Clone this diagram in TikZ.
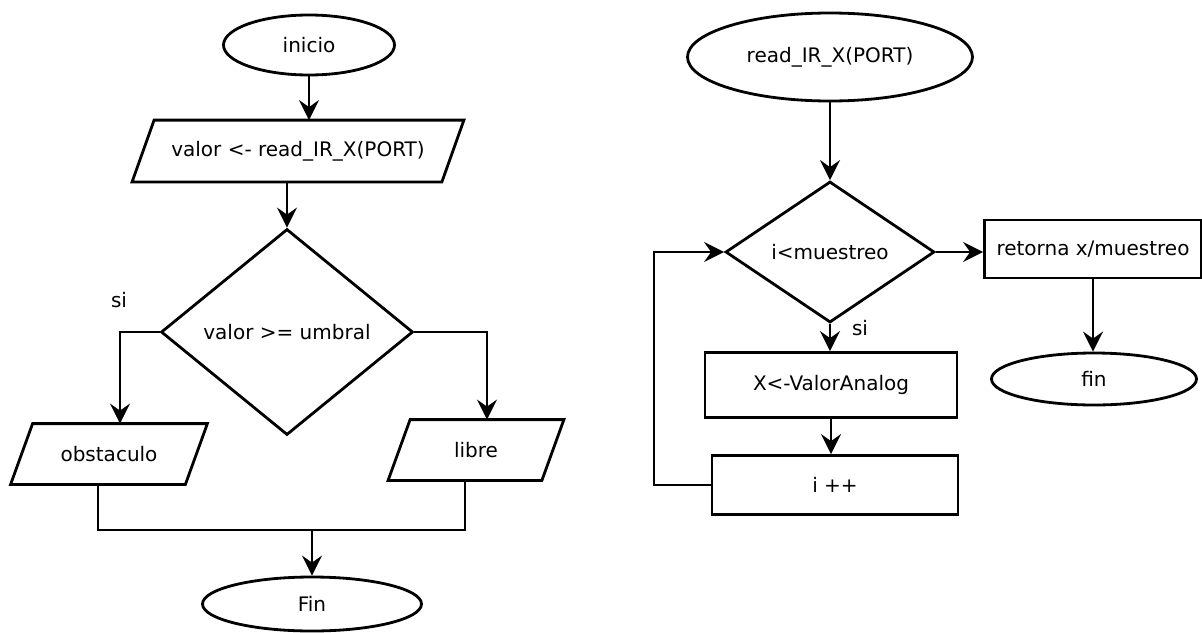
\documentclass[tikz,border=0pt]{standalone}
\usepackage{fontspec}
\setmainfont{DejaVu Sans}
\usepackage{tikz}
\usetikzlibrary{calc, shapes.geometric, arrows.meta}

\begin{document}
\begin{tikzpicture}[x=1pt, y=-1pt, >={Stealth[length=20pt, width=20pt, inset=7pt]},
    line width=2.8pt, font=\fontsize{20}{24}\selectfont,
    term/.style={draw, ellipse, inner sep=0pt},
    io/.style={rectangle, inner sep=0pt},
    decision/.style={draw, diamond, inner sep=0pt},
    proc/.style={draw, rectangle, inner sep=0pt}]
    \useasboundingbox (0,0) rectangle (1202,632);

    % Diagrama principal
    \node[term, minimum width=171, minimum height=60] (inicio) at (309,45) {inicio};
    \node[io, minimum width=307, minimum height=59] (leer) at (298,151) {valor <- read\_IR\_X(PORT)};
    \node[decision, minimum width=252, minimum height=206] (cmp) at (287,332) {valor >= umbral};
    \node (si1) at (119,300) {si};
    \node[io, minimum width=172, minimum height=58] (obst) at (109,454) {obstaculo};
    \node[io, minimum width=151, minimum height=58] (libre) at (476,450) {libre};
    \node[term, minimum width=219, minimum height=54] (fin1) at (312,604) {Fin};
    \coordinate (junta) at (312,530);

    % Paralelogramos de entrada/salida
    \foreach \n in {leer, obst, libre}
        \draw ($(\n.north west)+(11,0)$) -- ($(\n.north east)+(11,0)$)
            -- ($(\n.south east)-(11,0)$) -- ($(\n.south west)-(11,0)$) -- cycle;

    \draw[->] (inicio.south) -- ($(leer.north)+(11,0)$);
    \draw[->] ($(leer.south)-(11,0)$) -- (cmp.north);
    \draw[->] (cmp.west) -| ($(obst.north)+(11,0)$);
    \draw[->] (cmp.east) -| ($(libre.north)+(11,0)$);
    \draw ($(obst.south)-(11,0)$) |- (junta) -| ($(libre.south)-(11,0)$);
    \draw[->] (junta) -- (fin1.north);

    % Funcion read_IR_X
    \node[term, minimum width=285, minimum height=88] (func) at (830,57) {read\_IR\_X(PORT)};
    \node[decision, minimum width=209, minimum height=141] (cond) at (830,252) {i<muestreo};
    \node[proc, minimum width=217, minimum height=58] (ret) at (1093,249) {retorna x/muestreo};
    \node[term, minimum width=205, minimum height=52] (fin2) at (1094,379) {fin};
    \node[proc, minimum width=252, minimum height=65] (xval) at (831,385) {X<-ValorAnalog};
    \node[proc, minimum width=246, minimum height=59] (inc) at (835,485) {i ++};
    \node (si2) at (860,328) {si};
    \coordinate (vuelta) at (654,485);

    \draw[->] (func.south) -- (cond.north);
    \draw[->] (cond.east) -- (cond.east -| ret.west);
    \draw[->] (ret.south) -- (ret.south |- fin2.north);
    \draw[->] (cond.south) -- (cond.south |- xval.north);
    \draw[->] (xval.south) -- (xval.south |- inc.north);
    \draw[->] (inc.west) -- (vuelta) |- (cond.west);
\end{tikzpicture}
\end{document}
